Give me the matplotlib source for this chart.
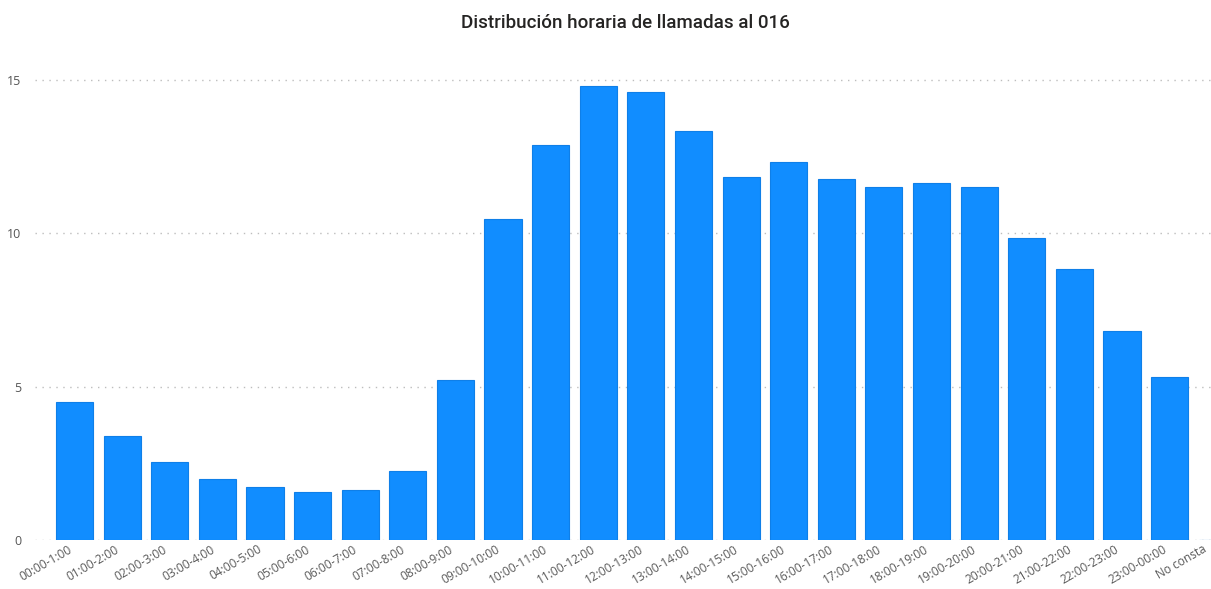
import matplotlib
matplotlib.use('Agg')
import matplotlib.pyplot as plt
import matplotlib.transforms as mtransforms
import numpy as np

# hourly call share
franjas = ['00:00-1:00', '01:00-2:00', '02:00-3:00', '03:00-4:00', '04:00-5:00',
           '05:00-6:00', '06:00-7:00', '07:00-8:00', '08:00-9:00', '09:00-10:00',
           '10:00-11:00', '11:00-12:00', '12:00-13:00', '13:00-14:00', '14:00-15:00',
           '15:00-16:00', '16:00-17:00', '17:00-18:00', '18:00-19:00', '19:00-20:00',
           '20:00-21:00', '21:00-22:00', '22:00-23:00', '23:00-00:00', 'No consta']
valores = [4.50, 3.39, 2.54, 1.99, 1.73, 1.57, 1.63, 2.25, 5.22, 10.47,
           12.88, 14.80, 14.61, 13.34, 11.84, 12.33, 11.77, 11.51, 11.64, 11.51,
           9.85, 8.84, 6.81, 5.31, 0.0]
yticks = [0, 5, 10, 15]

W, H = 1211, 589
fig = plt.figure(figsize=(W / 100, H / 100), dpi=100)
ax = fig.add_axes([35 / W, 49 / H, 1206 / W, 491 / H])

x = np.arange(len(franjas))
ax.bar(x, valores, width=0.78, color='#118DFF', edgecolor='#0F7FE8',
       linewidth=0.8, zorder=3)

ax.set_xlim(-0.83, 24.5)
ax.set_ylim(0, 16)
ax.set_yticks(yticks)
ax.set_yticklabels([str(v) for v in yticks], fontsize=9, color='#555555',
                   family='Open Sans')
ax.yaxis.grid(True, linestyle=(0, (1, 4)), color='#bdbdbd', linewidth=1)
ax.tick_params(axis='both', length=0)
ax.tick_params(axis='y', pad=10)

ax.set_xticks(x)
ax.set_xticklabels(franjas, rotation=30, ha='right', va='top',
                   rotation_mode='anchor', fontsize=8.6, color='#5a5a5a',
                   family='Open Sans')
ax.tick_params(axis='x', pad=2)
labs = ax.get_xticklabels()
for i, lab in enumerate(labs):
    dx = -15 if i == len(labs) - 1 else -7
    shift = mtransforms.ScaledTranslation(dx / 100, 0, fig.dpi_scale_trans)
    lab.set_transform(lab.get_transform() + shift)

for s in ax.spines.values():
    s.set_visible(False)

fig.text(625 / W, 1 - 23 / H, 'Distribución horaria de llamadas al 016',
         ha='center', va='center', fontsize=13.5, color='#252423',
         family='Roboto', weight='medium')

fig.savefig('out.png', dpi=100)
